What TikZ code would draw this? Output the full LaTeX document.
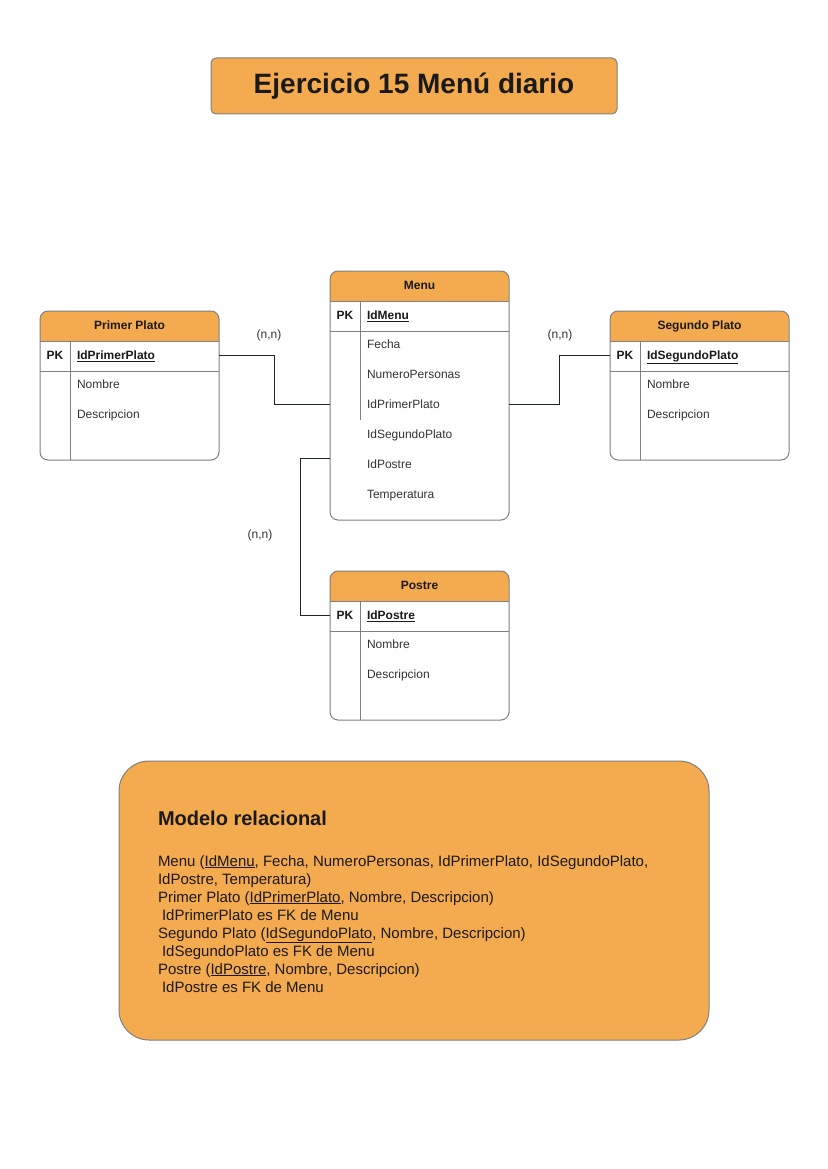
\documentclass[tikz,border=0pt]{standalone}
\usepackage{fontspec}
\setmainfont{Liberation Sans}
\usetikzlibrary{calc}

\definecolor{boxfill}{RGB}{244,170,78}
\definecolor{boxline}{RGB}{128,128,128}
\definecolor{ink}{RGB}{26,26,26}
\definecolor{fieldink}{RGB}{51,51,51}
\definecolor{linkline}{RGB}{28,36,42}

\tikzset{
  every node/.style={inner sep=0pt, outer sep=0pt},
  tablebox/.style={draw=boxline, line width=1pt, rounded corners=8pt,
    minimum width=179pt, anchor=north west},
  rowline/.style={draw=boxline, line width=1pt},
  headtxt/.style={font=\fontsize{12}{14}\selectfont\bfseries, text=ink,
    text height=10.5pt, text depth=2pt},
  pktxt/.style={anchor=center, font=\fontsize{12}{14}\selectfont\bfseries, text=ink,
    text height=10.5pt, text depth=2pt},
  keytxt/.style={anchor=west, font=\fontsize{12}{14}\selectfont\bfseries, text=ink,
    text height=10.5pt, text depth=2pt},
  fieldtxt/.style={anchor=west, font=\fontsize{12}{14}\selectfont, text=fieldink,
    text height=10.5pt, text depth=2pt},
  cardtxt/.style={anchor=center, font=\fontsize{12}{14}\selectfont, text=fieldink},
  conn/.style={draw=linkline, line width=1pt},
  reltxt/.style={anchor=base west, font=\fontsize{15}{18}\selectfont, text=ink},
}

% #1 name, #2 left, #3 top, #4 height, #5 title, #6 key field, #7 length of key column rule
\newcommand\ertable[7]{%
  \begin{scope}
    \clip[rounded corners=8pt] (#2,#3) rectangle ++(179,#4);
    \fill[boxfill] (#2,#3) rectangle ++(179,30);
  \end{scope}
  \node[tablebox, minimum height=#4pt] (#1) at (#2,#3) {};
  \draw[rowline] (#2,#3+30) -- ++(179,0);
  \draw[rowline] (#2,#3+60) -- ++(179,0);
  \draw[rowline] (#2+30,#3+30) -- ++(0,#7);
  \node[headtxt] (#1-title) at (#2+89.5,#3+14.5) {#5};
  \node[pktxt] (#1-pk) at (#2+15,#3+44.5) {PK};
  \node[keytxt] (#1-key) at (#2+37,#3+44.5) {\underline{#6}};
}

\begin{document}
\begin{tikzpicture}[x=1pt,y=-1pt]
  \fill[white] (0,0) rectangle (827,1169);
  \useasboundingbox (0,0) rectangle (827,1169);

  % title
  \node[draw=boxline, line width=1pt, fill=boxfill, rounded corners=5pt,
        minimum width=406pt, minimum height=56pt,
        font=\fontsize{28}{32}\selectfont\bfseries, text=ink] (title) at (414,86)
        {Ejercicio 15 Menú diario};

  % entities
  \ertable{menu}{330}{271}{249}{Menu}{IdMenu}{119}
  \node[fieldtxt] (menu-f1) at (367,344) {Fecha};
  \node[fieldtxt] (menu-f2) at (367,374) {NumeroPersonas};
  \node[fieldtxt] (menu-f3) at (367,404.5) {IdPrimerPlato};
  \node[fieldtxt] (menu-f4) at (367,434) {IdSegundoPlato};
  \node[fieldtxt] (menu-f5) at (367,464) {IdPostre};
  \node[fieldtxt] (menu-f6) at (367,494) {Temperatura};

  \ertable{pp}{40}{311}{149}{Primer Plato}{IdPrimerPlato}{119}
  \node[fieldtxt] (pp-f1) at (77,384) {Nombre};
  \node[fieldtxt] (pp-f2) at (77,414) {Descripcion};

  \ertable{sp}{610}{311}{149}{Segundo Plato}{IdSegundoPlato}{119}
  \node[fieldtxt] (sp-f1) at (647,384) {Nombre};
  \node[fieldtxt] (sp-f2) at (647,414) {Descripcion};

  \ertable{postre}{330}{571}{149}{Postre}{IdPostre}{119}
  \node[fieldtxt] (postre-f1) at (367,644) {Nombre};
  \node[fieldtxt] (postre-f2) at (367,674) {Descripcion};

  % relationships
  \draw[conn] (pp.east |- pp-key) -| ($(pp.east)!0.5!(menu.west)$) |- (menu.west |- menu-f3);
  \draw[conn] (menu.east |- menu-f3) -| ($(menu.east)!0.5!(sp.west)$) |- (sp.west |- sp-key);
  \draw[conn] ($(menu.west |- menu-f5)+(0,-6)$) -- ++(-30,0) |- (postre.west |- postre-key);

  \node[cardtxt] (card-pp) at (269,335) {(n,n)};
  \node[cardtxt] (card-sp) at (560,335) {(n,n)};
  \node[cardtxt] (card-po) at (260,535) {(n,n)};

  % relational model
  \node[draw=boxline, line width=1pt, fill=boxfill, rounded corners=30pt,
        minimum width=590pt, minimum height=279pt] (rel) at (414,900.5) {};
  \node[anchor=base west, font=\fontsize{20}{24}\selectfont\bfseries, text=ink]
        (rel-head) at (158,825) {Modelo relacional};
  \node[reltxt] (rel-l1) at (158,866) {Menu (\underline{IdMenu}, Fecha, NumeroPersonas, IdPrimerPlato, IdSegundoPlato,};
  \node[reltxt] (rel-l2) at (158,884) {IdPostre, Temperatura)};
  \node[reltxt] (rel-l3) at (158,902) {Primer Plato (\underline{IdPrimerPlato}, Nombre, Descripcion)};
  \node[reltxt] (rel-l4) at (162,920) {IdPrimerPlato es FK de Menu};
  \node[reltxt] (rel-l5) at (158,938) {Segundo Plato (\underline{IdSegundoPlato}, Nombre, Descripcion)};
  \node[reltxt] (rel-l6) at (162,956) {IdSegundoPlato es FK de Menu};
  \node[reltxt] (rel-l7) at (158,974) {Postre (\underline{IdPostre}, Nombre, Descripcion)};
  \node[reltxt] (rel-l8) at (162,992) {IdPostre es FK de Menu};
\end{tikzpicture}
\end{document}
